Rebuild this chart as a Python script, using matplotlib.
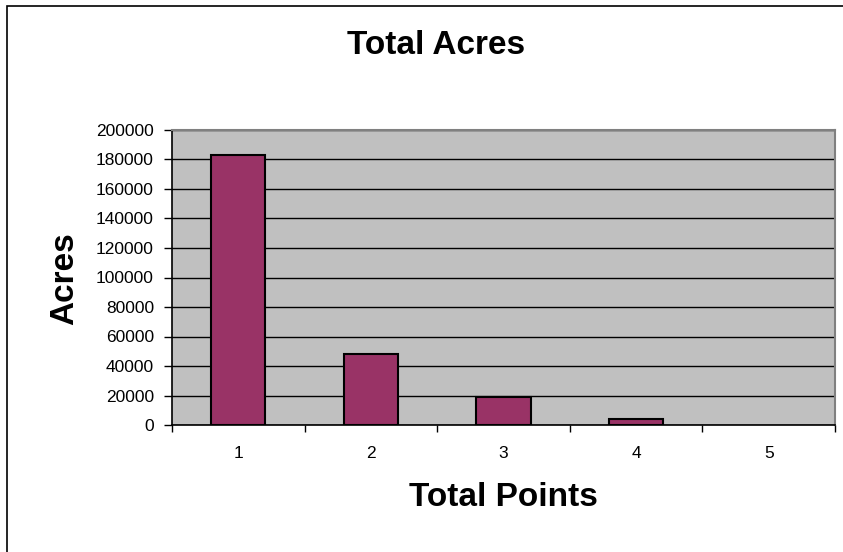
import matplotlib
matplotlib.use("Agg")
import matplotlib.pyplot as plt
from matplotlib.patches import Rectangle
from matplotlib.ticker import FixedLocator

plt.rcParams['font.family'] = ['Liberation Sans', 'DejaVu Sans']

categories = ["1", "2", "3", "4", "5"]
acres = [183000, 48000, 19000, 3800, 0]
y_ticks = [0, 20000, 40000, 60000, 80000, 100000, 120000, 140000, 160000, 180000, 200000]

W, H = 843, 552
fig = plt.figure(figsize=(W / 100, H / 100), dpi=100)
fig.patch.set_facecolor('white')

# outer chart border
fig.add_artist(Rectangle((7 / W, -0.05), 1.1, 1 - 6 / H + 0.05, transform=fig.transFigure,
                         fill=False, edgecolor='black', linewidth=1.2))

ax = fig.add_axes([172 / W, 1 - 425 / H, (835 - 172) / W, (425 - 130) / H])
ax.set_facecolor('#C0C0C0')

x = list(range(len(categories)))
edges = ['black' if v > 0 else 'none' for v in acres]
ax.bar(x, acres, width=0.41, color='#993366', edgecolor=edges, linewidth=1.5, zorder=3)

ax.set_xlim(-0.5, len(categories) - 0.5)
ax.set_ylim(0, 200000)
ax.set_yticks(y_ticks)
ax.set_yticklabels([str(v) for v in y_ticks], fontsize=12.5)
ax.yaxis.grid(True, color='black', linewidth=1.0, zorder=1)
ax.set_axisbelow(True)

ax.set_xticks(x)
ax.set_xticklabels(categories, fontsize=12.5)
ax.tick_params(axis='x', which='major', length=0, pad=15)
ax.xaxis.set_minor_locator(FixedLocator([i - 0.5 for i in range(len(categories) + 1)]))
ax.tick_params(axis='x', which='minor', length=5, width=1, direction='out', color='black')
ax.tick_params(axis='y', length=6, width=1, direction='out', pad=7)

for s in ['left', 'bottom']:
    ax.spines[s].set_color('black')
    ax.spines[s].set_linewidth(1.2)
for s in ['top', 'right']:
    ax.spines[s].set_color('#808080')
    ax.spines[s].set_linewidth(1.5)

fig.text(436 / W, 1 - 45 / H, "Total Acres", ha='center', va='center', fontsize=24, fontweight='bold')
fig.text(503 / W, 1 - 498 / H, "Total Points", ha='center', va='center', fontsize=24, fontweight='bold')
fig.text(65 / W, 1 - 279 / H, "Acres", ha='center', va='center', rotation=90, fontsize=24, fontweight='bold')

fig.savefig("out.png", dpi=100)
